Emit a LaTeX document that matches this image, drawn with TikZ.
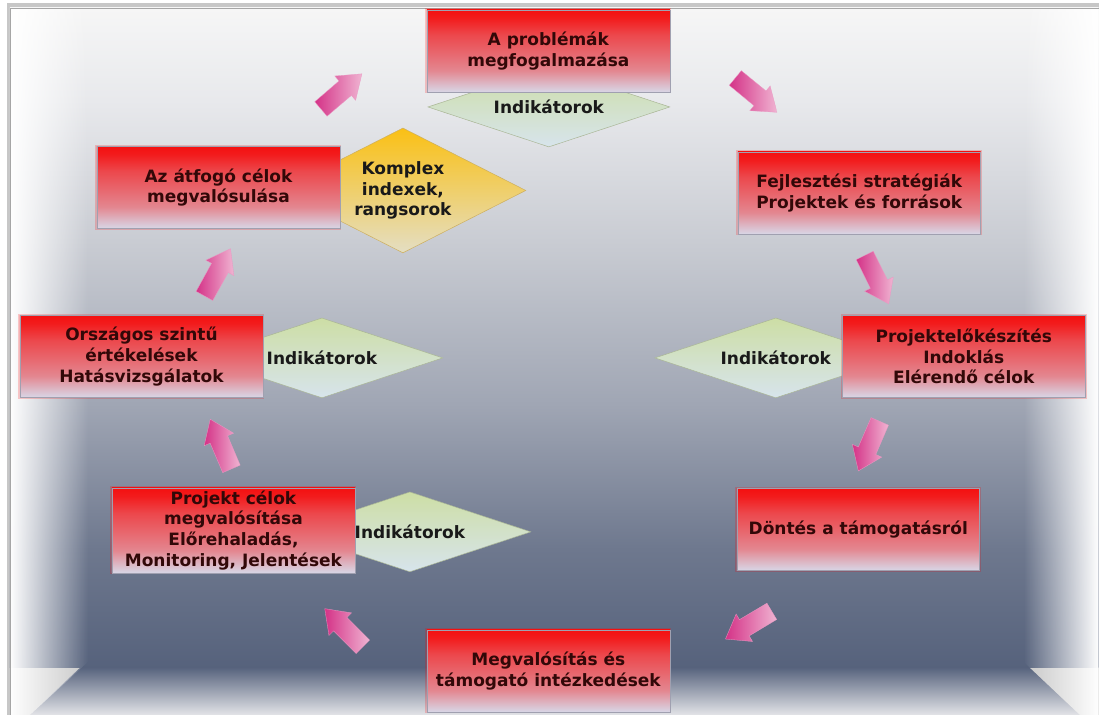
\documentclass[tikz,border=0pt]{standalone}
\usepackage{fontspec}
\setmainfont{DejaVu Sans}
\usepackage{xcolor}
\usepackage{tikz}
\usetikzlibrary{positioning,shapes.geometric,fadings}

\definecolor{boxred}{RGB}{244,16,16}
\definecolor{boxlav}{RGB}{216,214,230}
\definecolor{boxtext}{RGB}{50,8,8}
\definecolor{boxline}{RGB}{160,160,176}
\definecolor{greentop}{RGB}{205,222,165}
\definecolor{greenbot}{RGB}{215,228,236}
\definecolor{greenline}{RGB}{170,182,150}
\definecolor{yellowtop}{RGB}{250,192,20}
\definecolor{yellowbot}{RGB}{228,222,195}
\definecolor{yellowline}{RGB}{205,175,95}
\definecolor{arrowdark}{RGB}{212,50,135}
\definecolor{arrowlight}{RGB}{240,180,210}
\definecolor{floortop}{RGB}{88,100,126}
\definecolor{floorbot}{RGB}{226,227,231}
\definecolor{wallA}{RGB}{86,98,124}
\definecolor{wallB}{RGB}{110,120,142}
\definecolor{wallC}{RGB}{160,166,180}
\definecolor{wallD}{RGB}{200,203,210}
\definecolor{wallE}{RGB}{232,233,236}
\definecolor{wallF}{RGB}{246,246,246}

\pgfdeclareverticalshading{redbox}{100bp}{color(0bp)=(boxlav); color(25bp)=(boxlav);
  color(30bp)=(boxlav!85!boxred); color(38bp)=(boxlav!60!boxred); color(48bp)=(boxlav!45!boxred);
  color(60bp)=(boxlav!28!boxred); color(70bp)=(boxlav!6!boxred); color(75bp)=(boxred);
  color(100bp)=(boxred)}
\pgfdeclareverticalshading{backwall}{100bp}{color(0bp)=(wallA); color(25bp)=(wallA);
  color(34bp)=(wallB); color(45bp)=(wallC); color(57bp)=(wallD); color(68bp)=(wallE);
  color(75bp)=(wallF); color(100bp)=(wallF)}

\tikzfading[name=fade wall left, left color=transparent!0, middle color=transparent!5, right color=transparent!100]
\tikzfading[name=fade wall right, left color=transparent!100, middle color=transparent!5, right color=transparent!0]

% block arrow from tail coordinate to the direction of the tip coordinate
\newcommand{\pinkarrow}[2]{%
  \pgfmathanglebetweenpoints{\pgfpointanchor{#1}{center}}{\pgfpointanchor{#2}{center}}%
  \let\arrowangle\pgfmathresult
  \shade[arrowfill, shift={(#1)}, rotate=\arrowangle]
    (0,-9.5) -- (32,-9.5) -- (32,-16) -- (54,0) -- (32,16) -- (32,9.5) -- (0,9.5) -- cycle;}

\begin{document}
\begin{tikzpicture}[x=1pt, y=-1pt,
	font=\fontsize{17}{20.7}\selectfont\bfseries,
	redbox/.style={rectangle, shade, shading=redbox, draw=boxline, line width=0.6pt,
		minimum width=243pt, minimum height=82pt, inner sep=2pt, align=center, text=boxtext,
		preaction={draw=red, line width=3pt, opacity=0.2}},
	greendia/.style={diamond, aspect=3, top color=greentop, bottom color=greenbot, draw=greenline,
		line width=0.5pt, minimum width=242pt, minimum height=80pt, inner sep=0pt,
		align=center, text=black!90},
	yellowdia/.style={greendia, aspect=2, top color=yellowtop, bottom color=yellowbot,
		draw=yellowline, minimum width=246pt, minimum height=125pt},
	arrowfill/.style={left color=arrowdark, right color=arrowlight, draw=arrowdark!50!white,
		line width=0.3pt}]

	% room
	\fill[white] (0,0) rectangle (1099,715);
	\fill[black!22] (7,3) rectangle (1099,715);
	\shade[shading=backwall] (10,8) rectangle (1099,668);
	\shade[top color=floortop, bottom color=floorbot] (80,668) -- (1030,668) -- (1080,715) -- (30,715) -- cycle;
	\fill[white, path fading=fade wall left] (10,8) -- (88,8) -- (88,662) -- (30,715) -- (10,715) -- cycle;
	\fill[white, path fading=fade wall right] (1099,8) -- (1024,8) -- (1024,662) -- (1080,715) -- (1099,715) -- cycle;
	\draw[black!35, line width=0.6pt] (1099,8) -- (10,8) -- (10,715);

	% arrows
	\coordinate (s1) at (321,109);   \coordinate (e1) at (363,73);
	\coordinate (s2) at (735.5,78);  \coordinate (e2) at (778,113);
	\coordinate (s3) at (865,255.5); \coordinate (e3) at (888,302);
	\coordinate (s4) at (880,421.5); \coordinate (e4) at (859,470);
	\coordinate (s5) at (772,611.5); \coordinate (e5) at (726,639);
	\coordinate (s6) at (363,647);   \coordinate (e6) at (325,609);
	\coordinate (s7) at (231.5,469); \coordinate (e7) at (211,421);
	\coordinate (s8) at (204.5,296); \coordinate (e8) at (231,248);
	\foreach \i in {1,...,8} {\pinkarrow{s\i}{e\i}}

	% diamonds
	\node[greendia] (da) at (549,107) {Indikátorok};
	\node[greendia] (dc) at (776,358) {Indikátorok};
	\node[greendia] (df) at (410,532) {Indikátorok};
	\node[greendia] (dg) at (322,358) {Indikátorok};
	\node[yellowdia] (dh) at (403,190.5) {Komplex\\indexek,\\rangsorok};

	% boxes
	\node[redbox] (a) at (548.5,51) {A problémák\\megfogalmazása};
	\node[redbox] (b) at (859.5,193) {Fejlesztési stratégiák\\Projektek és források};
	\node[redbox] (c) at (964,356.5) {Projektelőkészítés\\Indoklás\\Elérendő célok};
	\node[redbox] (d) at (858.5,529.5) {Döntés a támogatásról};
	\node[redbox] (e) at (548.5,671) {Megvalósítás és\\támogató intézkedések};
	\node[redbox, minimum height=85pt] (f) at (233.5,530.5) {Projekt célok\\megvalósítása\\Előrehaladás,\\Monitoring, Jelentések};
	\node[redbox] (g) at (141.5,356.5) {Országos szintű\\értékelések\\Hatásvizsgálatok};
	\node[redbox] (h) at (218.5,187.5) {Az átfogó célok\\megvalósulása};
\end{tikzpicture}
\end{document}
